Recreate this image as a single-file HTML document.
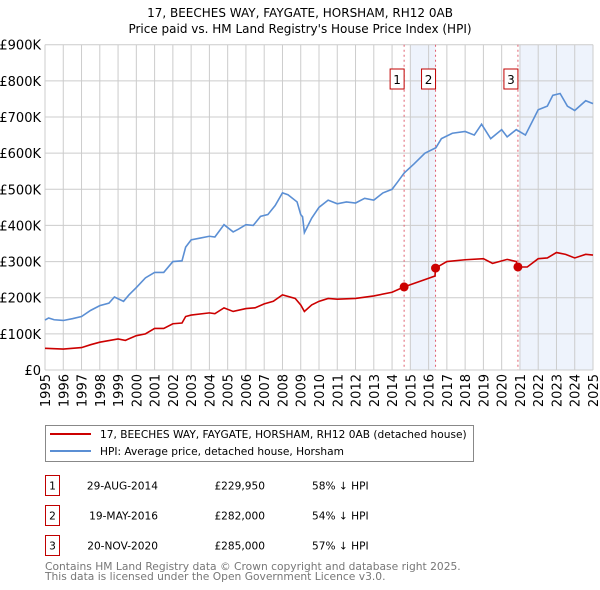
<!DOCTYPE html>
<html><head><meta charset="utf-8"><style>
body{margin:0;background:#fff;}
svg{display:block;font-family:"DejaVu Sans","Liberation Sans",sans-serif;}
</style></head><body>
<svg id="c" width="600" height="590"></svg>
<script>
const hpiX=[1995,1995.2,1995.5,1996,1996.5,1997,1997.5,1998,1998.5,1998.8,1999.3,1999.6,2000,2000.5,2001,2001.5,2002,2002.5,2002.7,2003,2003.5,2004,2004.3,2004.8,2005.3,2005.6,2006,2006.4,2006.8,2007.2,2007.6,2008,2008.3,2008.8,2009,2009.1,2009.2,2009.6,2010,2010.5,2011,2011.5,2012,2012.5,2013,2013.5,2014,2014.3,2014.66,2015.2,2015.8,2016.4,2016.7,2017.3,2018,2018.5,2018.9,2019.4,2020,2020.3,2020.8,2021.3,2021.7,2022,2022.5,2022.8,2023.2,2023.6,2024,2024.6,2025];
const hpiV=[138,144,139,137,142,148,165,178,185,202,190,208,228,255,270,270,300,302,340,360,365,370,368,402,382,390,402,400,425,430,455,490,485,465,430,424,380,420,450,470,460,465,462,475,470,490,500,520,545,570,600,615,640,655,660,650,680,640,665,645,665,650,690,720,730,760,765,730,718,745,737];
const ppX=[1995,1996,1997,1997.5,1998,1999,1999.4,2000,2000.5,2001,2001.5,2002,2002.5,2002.7,2003,2004,2004.3,2004.8,2005.3,2006,2006.5,2007,2007.5,2008,2008.7,2009,2009.2,2009.6,2010,2010.5,2011,2012,2013,2014,2014.66,2015.5,2016.35,2016.38,2017,2018,2019,2019.5,2020.3,2020.8,2020.89,2021.4,2022,2022.5,2023,2023.5,2024,2024.6,2025];
const ppV=[60,58,62,70,77,86,82,95,100,115,115,128,130,148,152,158,156,172,162,170,172,183,190,208,198,180,162,180,190,198,196,198,205,215,230,245,260,282,300,305,308,295,306,300,285,285,308,310,325,320,310,320,318];
const saleX=[2014.66,2016.38,2020.89];
const saleV=[229.95,282,285];
const saleLabels=["1","2","3"];
const yTicks=[0,100,200,300,400,500,600,700,800,900];
const yLabels=["£0","£100K","£200K","£300K","£400K","£500K","£600K","£700K","£800K","£900K"];
const years=[];for(let y=1995;y<=2025;y++)years.push(y);
const X0=45,X1=593,Y0=370,Y1=44.7;
const sx=v=>X0+(v-1995)/30*(X1-X0);
const sy=v=>Y0-v/900*(Y0-Y1);
const svg=document.getElementById('c');const NS='http://www.w3.org/2000/svg';
function mk(t,a,p){const e=document.createElementNS(NS,t);for(const k in a)e.setAttribute(k,a[k]);(p||svg).appendChild(e);return e;}
function tx(x,y,s,a){const e=mk('text',Object.assign({x:x,y:y},a||{}));e.textContent=s;return e;}
let t=tx(300,17,'17, BEECHES WAY, FAYGATE, HORSHAM, RH12 0AB',{'text-anchor':'middle','font-size':12});

t=tx(300,33,"Price paid vs. HM Land Registry's House Price Index (HPI)",{'text-anchor':'middle','font-size':12});

let r=mk('rect',{x:sx(2015),y:Y1,width:sx(2016.38)-sx(2015),height:Y0-Y1,fill:'#eef3fc'});

r=mk('rect',{x:sx(2021),y:Y1,width:X1-sx(2021),height:Y0-Y1,fill:'#eef3fc'});

const grid=mk('g',{stroke:'#cccccc','stroke-width':1});

years.forEach(y=>mk('line',{x1:sx(y),x2:sx(y),y1:Y1,y2:Y0},grid));
yTicks.forEach(v=>mk('line',{x1:X0,x2:X1,y1:sy(v),y2:sy(v)},grid));
yTicks.forEach((v,i)=>{const e=tx(X0-4,sy(v)+5,yLabels[i],{'text-anchor':'end','font-size':13});
});
years.forEach(y=>{const e=tx(0,0,String(y),{'text-anchor':'end','font-size':13,transform:`translate(${sx(y)+5},374) rotate(-90)`});
});
saleX.forEach((s,i)=>{const l=mk('line',{x1:sx(s),x2:sx(s),y1:Y1,y2:Y0,stroke:'#e06070','stroke-dasharray':'2,3'});

const b=mk('rect',{x:sx(s)-14,y:69,width:14,height:20,fill:'#fff',stroke:'#c00000'});

const e=tx(sx(s)-7,84,saleLabels[i],{'text-anchor':'middle','font-size':12});
});
let p=mk('polyline',{points:hpiX.map((x,i)=>sx(x)+','+sy(hpiV[i])).join(' '),fill:'none',stroke:'#5b8fd4','stroke-width':1.6});

p=mk('polyline',{points:ppX.map((x,i)=>sx(x)+','+sy(ppV[i])).join(' '),fill:'none',stroke:'#cc0000','stroke-width':1.6});

saleX.forEach((s,i)=>{const c=mk('circle',{cx:sx(s),cy:sy(saleV[i]),r:4.5,fill:'#cc0000'});
});
const lg=mk('g',{});
mk('rect',{x:45.5,y:425.5,width:428,height:36,fill:'#fff',stroke:'#888'},lg);
mk('line',{x1:50,x2:91,y1:434,y2:434,stroke:'#cc0000','stroke-width':2},lg);
mk('line',{x1:50,x2:91,y1:451,y2:451,stroke:'#5b8fd4','stroke-width':2},lg);
t=tx(100,438,'17, BEECHES WAY, FAYGATE, HORSHAM, RH12 0AB (detached house)',{'font-size':10.6});lg.appendChild(t);

t=tx(100,455,'HPI: Average price, detached house, Horsham',{'font-size':10.6});lg.appendChild(t);

const rows=[["29-AUG-2014","£229,950","58% ↓ HPI"],["19-MAY-2016","£282,000","54% ↓ HPI"],["20-NOV-2020","£285,000","57% ↓ HPI"]];
rows.forEach((rw,i)=>{const y=475+i*30;
const b=mk('rect',{x:45.5,y:y+0.5,width:14,height:20,fill:'#fff',stroke:'#c00000'});

let e=tx(52.5,y+14.5,String(i+1),{'text-anchor':'middle','font-size':10.6});

e=tx(158,y+14.5,rw[0],{'text-anchor':'end','font-size':10.6});

e=tx(265,y+14.5,rw[1],{'text-anchor':'end','font-size':10.6});

e=tx(312,y+14.5,rw[2],{'font-size':10.6});
});
t=tx(45,570,'Contains HM Land Registry data © Crown copyright and database right 2025.',{'font-size':10.7,fill:'#777'});

t=tx(45,580,'This data is licensed under the Open Government Licence v3.0.',{'font-size':10.7,fill:'#777'});

</script>
</body></html>
